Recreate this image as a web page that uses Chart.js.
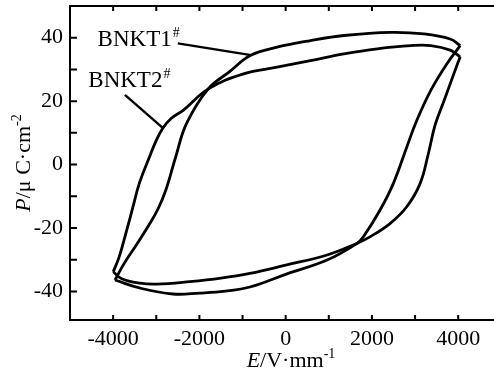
<!DOCTYPE html>
<html>
<head>
<meta charset="utf-8">
<script src="https://cdn.jsdelivr.net/npm/chart.js@4.4.0/dist/chart.umd.min.js"></script>
<style>
  html, body { margin: 0; padding: 0; background: #fff; }
  #wrap { width: 494px; height: 374px; position: relative; }
</style>
</head>
<body>
<div id="wrap"><canvas id="loop"></canvas></div>
<script>
const SERIF = "'Liberation Serif', 'Times New Roman', serif";

// tick values
const xTickLabels = [-4000, -2000, 0, 2000, 4000];
const yTickLabels = [-40, -20, 0, 20, 40];
const xTickMarks = [-4000, -3000, -2000, -1000, 0, 1000, 2000, 3000, 4000];
const yTickMarks = [-40, -30, -20, -10, 0, 10, 20, 30, 40];

// BNKT1# loop, upper branch (from +Emax going left) and lower branch (from -Emax going right)
const b1UpE = [4047, 3814, 3210, 2435, 1350, 575, -200, -820, -1300, -1800, -2300, -2550, -2780, -2960, -3160, -3470, -3750, -3958];
const b1UpP = [37.5, 39.6, 41.2, 41.7, 40.7, 39.1, 37.0, 34.4, 29.3, 23.8, 12.9, 2.4, -8.1, -14.0, -18.8, -25.5, -31.3, -36.4];
const b1LoE = [-3958, -3390, -2610, -1990, -1400, -830, 0, 960, 1660, 1800, 2186, 2495, 2807, 3039, 3365, 3744, 4047];
const b1LoP = [-36.4, -38.9, -40.8, -40.5, -39.9, -38.6, -34.6, -30.1, -24.8, -22.8, -14.4, -6.0, 5.5, 13.9, 23.4, 31.9, 37.5];

// BNKT2# loop
const b2UpE = [4047, 3830, 3365, 2900, 2123, 1349, 574, -202, -977, -1800, -2377, -2650, -2853, -3020, -3163, -3395, -3530, -3705, -3860, -3998];
const b2UpP = [33.9, 36.0, 37.5, 37.5, 36.5, 34.9, 32.8, 30.7, 28.6, 23.8, 17.1, 14.6, 11.4, 7.0, 2.2, -6.0, -12.8, -21.7, -29.1, -33.8];
const b2LoE = [-3998, -3800, -3380, -2993, -2222, -1500, -830, 0, 960, 1660, 1953, 2419, 2807, 3116, 3309, 3465, 3674, 3984, 4047];
const b2LoP = [-33.8, -36.0, -37.4, -37.7, -36.9, -35.8, -34.3, -31.7, -28.5, -24.8, -22.8, -18.6, -13.3, -6.0, 3.5, 12.5, 20.2, 31.8, 33.9];

// labels and their leader lines (data coordinates)
const seriesNames = ["BNKT1", "BNKT2"];
const labelE = [-4360, -4576];
const labelP = [37.5, 24.4];
const leader1E = [-2500, -800];
const leader1P = [38.2, 34.5];
const leader2E = [-3727, -2850];
const leader2P = [22.0, 11.6];

function pts(es, ps) {
  return es.map((e, i) => ({ x: e, y: ps[i] }));
}

function curve(es, ps, tension) {
  return {
    data: pts(es, ps),
    showLine: true,
    borderColor: "#000",
    borderWidth: 2.8,
    pointRadius: 0,
    tension: tension,
    fill: false
  };
}

function drawRich(ctx, parts, cx, baseY) {
  let total = 0;
  parts.forEach((p) => { ctx.font = p.font; total += ctx.measureText(p.t).width; });
  let x = cx - total / 2;
  parts.forEach((p) => {
    ctx.font = p.font;
    ctx.fillText(p.t, x, baseY + (p.dy || 0));
    x += ctx.measureText(p.t).width;
  });
}

const frame = {
  id: "frame",
  afterDraw(chart) {
    const { ctx, chartArea: a, scales: { x, y } } = chart;
    ctx.save();
    ctx.strokeStyle = "#000";
    ctx.lineWidth = 2;
    ctx.beginPath();
    ctx.moveTo(a.left, a.top - 1); ctx.lineTo(a.left, a.bottom + 1);
    ctx.moveTo(a.left, a.bottom); ctx.lineTo(a.right, a.bottom);
    ctx.moveTo(a.left, a.top); ctx.lineTo(a.right, a.top);
    const rx = x.getPixelForValue(5000);
    yTickMarks.forEach((v) => {
      const py = y.getPixelForValue(v);
      ctx.moveTo(a.left, py); ctx.lineTo(a.left + 7, py);
      ctx.moveTo(rx, py); ctx.lineTo(rx - 7, py);
    });
    xTickMarks.forEach((v) => {
      const px = x.getPixelForValue(v);
      ctx.moveTo(px, a.bottom); ctx.lineTo(px, a.bottom - 5);
      ctx.moveTo(px, a.top); ctx.lineTo(px, a.top + 5);
    });
    ctx.stroke();

    ctx.fillStyle = "#000";
    ctx.textBaseline = "alphabetic";
    // series labels
    seriesNames.forEach((name, i) => {
      const px = x.getPixelForValue(labelE[i]);
      const py = y.getPixelForValue(labelP[i]);
      ctx.font = `23px ${SERIF}`;
      ctx.fillText(name, px, py);
      const w = ctx.measureText(name).width;
      ctx.font = `14px ${SERIF}`;
      ctx.fillText("#", px + w + 1, py - 9);
    });

    // x title
    drawRich(ctx, [
      { t: "E", font: `italic 22px ${SERIF}` },
      { t: "/V\u00b7mm", font: `22px ${SERIF}` },
      { t: "-1", font: `14px ${SERIF}`, dy: -9 }
    ], 291, 367);

    // y title
    ctx.translate(23, 163);
    ctx.rotate(-Math.PI / 2);
    drawRich(ctx, [
      { t: "P", font: `italic 22px ${SERIF}` },
      { t: "/\u03bc C\u00b7cm", font: `22px ${SERIF}` },
      { t: "-2", font: `14px ${SERIF}`, dy: -9 }
    ], 0, 7);
    ctx.restore();
  }
};

const tickFont = { family: SERIF, size: 22 };

new Chart(document.getElementById("loop"), {
  type: "scatter",
  data: {
    datasets: [
      curve(b1UpE, b1UpP, 0.4),
      curve(b1LoE, b1LoP, 0.4),
      curve(b2UpE, b2UpP, 0.4),
      curve(b2LoE, b2LoP, 0.4),
      Object.assign(curve(leader1E, leader1P, 0), { borderWidth: 2.4 }),
      Object.assign(curve(leader2E, leader2P, 0), { borderWidth: 2.4 })
    ]
  },
  options: {
    responsive: true,
    maintainAspectRatio: false,
    animation: false,
    layout: { padding: { top: 6, right: 0, left: 0, bottom: 0 } },
    plugins: { legend: { display: false }, tooltip: { enabled: false } },
    scales: {
      x: {
        type: "linear",
        min: -5000,
        max: 4830,
        grid: { display: false, drawTicks: false },
        border: { display: false },
        afterBuildTicks: (s) => { s.ticks = xTickLabels.map((v) => ({ value: v })); },
        afterFit: (s) => { s.height = 54; s.paddingLeft = 0; s.paddingRight = 0; },
        ticks: { color: "#000", font: tickFont, padding: 6, maxRotation: 0, autoSkip: false, callback: (v) => String(v) }
      },
      y: {
        type: "linear",
        min: -49,
        max: 50,
        grid: { display: false, drawTicks: false },
        border: { display: false },
        afterBuildTicks: (s) => { s.ticks = yTickLabels.map((v) => ({ value: v })); },
        afterFit: (s) => { s.width = 70; s.paddingTop = 0; s.paddingBottom = 0; },
        ticks: { color: "#000", font: tickFont, padding: 7, autoSkip: false, callback: (v) => String(v) }
      }
    }
  },
  plugins: [frame]
});
</script>
</body>
</html>
